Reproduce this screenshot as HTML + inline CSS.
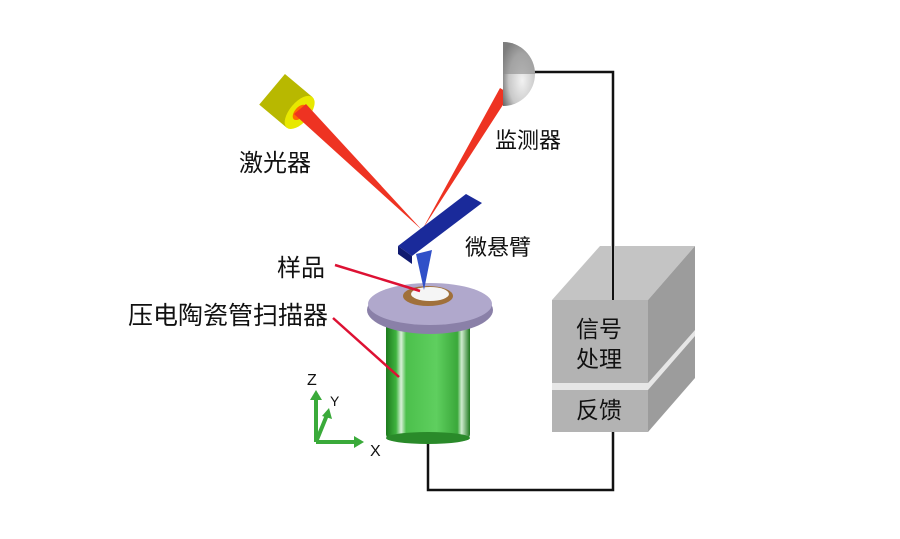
<!DOCTYPE html>
<html><head><meta charset="utf-8"><style>
html,body{margin:0;padding:0;background:#fff}
svg{display:block}
text{font-family:"Liberation Sans","Noto Sans CJK SC",sans-serif;fill:#111}
</style></head><body>
<svg width="900" height="539" viewBox="0 0 900 539" xmlns="http://www.w3.org/2000/svg">
<defs>
<linearGradient id="grn" x1="0" x2="1">
<stop offset="0" stop-color="#1d7a1d"/><stop offset="0.12" stop-color="#3fb33f"/><stop offset="0.18" stop-color="#d8f0d8"/><stop offset="0.24" stop-color="#4cc04c"/><stop offset="0.6" stop-color="#5fcf5f"/><stop offset="0.85" stop-color="#3aa83a"/><stop offset="0.9" stop-color="#cfeccf"/><stop offset="1" stop-color="#1f7a1f"/>
</linearGradient>
<radialGradient id="det" cx="0.6" cy="0.6" r="0.7"><stop offset="0" stop-color="#f2f2f2"/><stop offset="0.6" stop-color="#c8c8c8"/><stop offset="1" stop-color="#6a6a6a"/></radialGradient>
</defs>
<polyline points="528,72 613,72 613,250" fill="none" stroke="#111" stroke-width="2.5"/>
<polyline points="613,430 613,490 428,490 428,440" fill="none" stroke="#111" stroke-width="2.5"/>
<polygon points="552,300 600,246 695,246 648,300" fill="#c4c4c4"/>
<polygon points="648,300 695,246 695,378 648,432" fill="#9c9c9c"/>
<rect x="552" y="300" width="96" height="132" fill="#b3b3b3"/>
<polygon points="552,383 648,383 695,330 695,336 648,390 552,390" fill="#e6e6e6"/>
<line x1="613" y1="246" x2="613" y2="300" stroke="#111" stroke-width="2"/>
<text x="576" y="337" font-size="23">信号</text>
<text x="576" y="367" font-size="23">处理</text>
<text x="576" y="418" font-size="23">反馈</text>
<g transform="rotate(40 292 106)">
<rect x="266" y="86" width="36" height="40" fill="#b8b800"/>
<ellipse cx="302" cy="106" rx="10" ry="20" fill="#e8e800"/>
<ellipse cx="302" cy="106" rx="5" ry="9" fill="#ff6a00"/>
</g>
<polygon points="294,114 306,104 422,230" fill="#ee3322"/>
<polygon points="422,230 500,88 510,94" fill="#ee3322"/>
<path d="M503,42 A32,32 0 0 1 503,106 Z" fill="url(#det)"/>
<path d="M503,42 A32,32 0 0 1 535,74 L503,74 Z" fill="#8a8a8a" opacity="0.6"/>
<rect x="386" y="318" width="84" height="122" rx="6" fill="url(#grn)"/>
<ellipse cx="428" cy="438" rx="42" ry="6" fill="#2a8a2a"/>
<ellipse cx="430" cy="310" rx="63" ry="24" fill="#8a80a8"/>
<ellipse cx="430" cy="304" rx="62" ry="21" fill="#b0a8cc"/>
<ellipse cx="428" cy="296" rx="25" ry="10" fill="#a0703a"/>
<ellipse cx="430" cy="294" rx="19" ry="7" fill="#f5f5f5"/>
<polygon points="398,246 466,194 482,203 412,256" fill="#1a2a9a"/>
<polygon points="398,246 412,256 412,264 398,254" fill="#101a70"/>
<polygon points="416,254 432,250 424,290" fill="#3050c8"/>
<text x="239" y="171" font-size="24">激光器</text>
<text x="495" y="148" font-size="22">监测器</text>
<text x="465" y="255" font-size="22">微悬臂</text>
<text x="277" y="276" font-size="24">样品</text>
<text x="128" y="324" font-size="25">压电陶瓷管扫描器</text>
<line x1="335" y1="265" x2="420" y2="291" stroke="#dd1133" stroke-width="2.5"/>
<line x1="333" y1="318" x2="399" y2="377" stroke="#dd1133" stroke-width="2.5"/>
<g stroke="#3aaa3a" stroke-width="4" fill="none">
<line x1="316" y1="442" x2="316" y2="398"/>
<line x1="316" y1="442" x2="356" y2="442"/>
<line x1="316" y1="442" x2="327" y2="415"/>
</g>
<polygon points="316,390 310,400 322,400" fill="#3aaa3a"/>
<polygon points="364,442 354,436 354,448" fill="#3aaa3a"/>
<polygon points="329,408 322,416 332,419" fill="#3aaa3a"/>
<text x="307" y="385" font-size="16">Z</text>
<text x="330" y="406" font-size="14">Y</text>
<text x="370" y="456" font-size="16">X</text>
</svg>
</body></html>
